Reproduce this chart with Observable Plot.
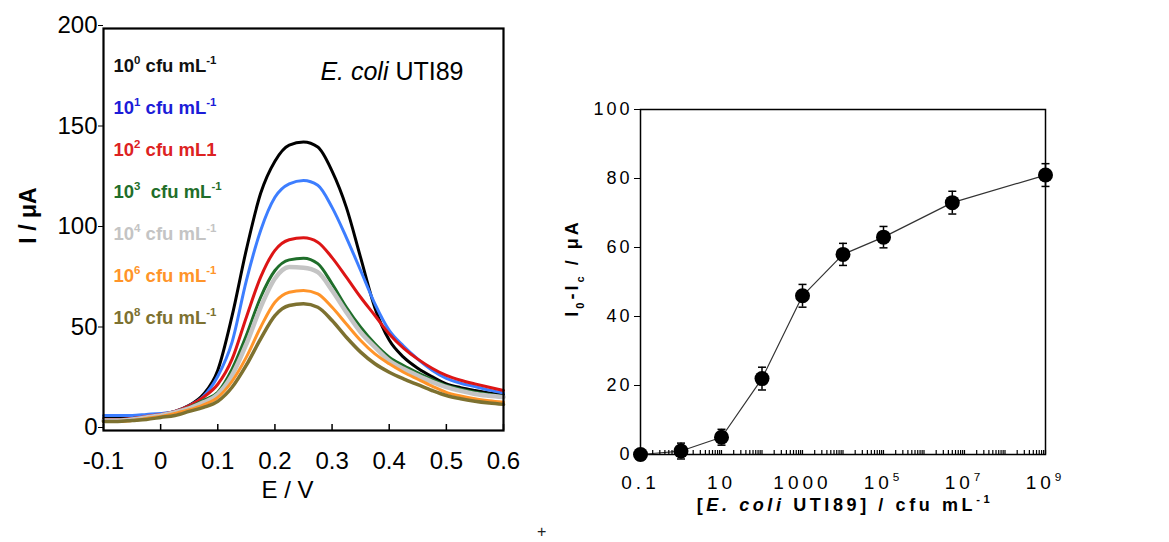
<!DOCTYPE html>
<html><head><meta charset="utf-8">
<script src="https://cdn.jsdelivr.net/npm/d3@7"></script>
<script src="https://cdn.jsdelivr.net/npm/@observablehq/plot@0.6"></script>
<style>
html,body{margin:0;padding:0;background:#fff;}
#wrap{position:relative;width:1169px;height:542px;overflow:hidden;font-family:"Liberation Sans",Arial,sans-serif;}
#left{position:absolute;left:0;top:0;}
#right{position:absolute;left:540px;top:0;}
#right text{letter-spacing:3px;}
#plus{position:absolute;left:537px;top:524px;font-size:16px;height:16px;color:#222;line-height:16px;}
</style></head><body>
<div id="wrap"><div id="left"></div><div id="right"></div><div id="plus">+</div></div>
<script>
// ---------- Left panel: voltammograms ----------
const potentials = [-0.1,-0.075,-0.05,-0.025,0,0.025,0.05,0.075,0.1,0.125,0.15,0.175,0.2,0.225,0.25,0.275,0.3,0.325,0.35,0.375,0.4,0.425,0.45,0.475,0.5,0.525,0.55,0.575,0.6];
const c10_0 = [6,6,6.5,7,8,9.5,12.5,18,30,57,90,118,134,142,143.5,141,129,111,86,61,45,36.5,31,26.8,23.2,21.3,19.9,18.7,17.7];
const c10_1 = [7.5,7.5,7.5,8,8.5,9.5,12.3,17,27,44,74.6,99.5,116,122.7,124.4,122,111,96,79.6,63,49.8,42,35.5,30,25.9,23.5,21.9,20.1,18.6];
const c10_2 = [5.5,5.5,6,7,8,9.5,12.3,16.6,23,35.5,56.4,76.3,89.6,94.9,95.9,93.7,86,76.3,66.3,57.2,48,41,35.5,31,27.4,25,23.2,21.5,19.9];
const c10_3 = [5,5,5.5,6.5,7.5,9,11.5,15,19,30.5,47.3,66.3,79.6,84.9,85.7,83,73,61.3,51.4,43.1,36.5,32.3,28.7,25.4,22.4,20.5,19,17.9,16.9];
const c10_4 = [5,5,5.5,6.5,7.5,9,11,14,18,27.5,43,61.3,75.6,81.3,81,78.8,69.7,58.9,48.9,41.5,34.8,30.7,27.3,24.2,21.6,19.7,18.2,17.3,16.6];
const c10_6 = [4.5,4.5,5,6,7,8.5,10.3,12.8,16.5,24.5,36.5,51.4,63.8,68.8,69.7,68,61.3,53,44.8,38.1,33.2,29,25.5,22.1,19,17.2,15.8,14.8,14];
const c10_8 = [4.5,4.5,5,5.5,6.5,7.5,9.5,11.5,14.5,21.5,32.5,45.6,57.2,62.2,63,61.3,54.7,46.4,39,33.2,29,25.7,22.8,19.9,17.4,15.8,14.6,13.7,13];
const seriesNames = ["1e0","1e1","1e2","1e3","1e4","1e6","1e8"];
const seriesCurrents = [c10_0,c10_1,c10_2,c10_3,c10_4,c10_6,c10_8];
const lineColors = ["#000000","#3d7eff","#dd1515","#1f6e2a","#c4c4c4","#ff9429","#7d7130"];
const lineWidths = [3,3,3,3,4.5,3,3.5];
const legendLabels = ["10^{0} cfu mL^{-1}","10^{1} cfu mL^{-1}","10^{2} cfu mL1","10^{3}  cfu mL^{-1}","10^{4} cfu mL^{-1}","10^{6} cfu mL^{-1}","10^{8} cfu mL^{-1}"];
const legendColors = ["#111111","#1c1cd8","#dd2222","#1f6e2a","#c4c4c4","#ff9429","#7d7130"];
const leftXTicks = [-0.1,0,0.1,0.2,0.3,0.4,0.5,0.6];
const leftYTicks = [0,50,100,150,200];
const leftTitle = "*{E. coli} UTI89";
const leftXLabel = "E / V";
const leftYLabel = "I / μA";

// ---------- Right panel: calibration ----------
const concentrations = [0.1,1,10,100,1000,1e4,1e5,5e6,1e9];
const signal = [0,1,5,22,46,58,63,73,81];
const signalErr = [1.5,2.3,2.3,3.3,3.3,3.2,3.1,3.3,3.3];
const rightXLabelTicks = [0.1,10,1000,1e5,1e7,1e9];
const rightXTickText = ["0.1","10","1000","10^{5}","10^{7}","10^{9}"];
const rightYTicks = [0,20,40,60,80,100];
const rightXLabel = "[*{E. coli} UTI89] / cfu mL^{-1}";
const rightYLabel = "I_{0}-I_{c} / μA";

const rows = seriesNames.flatMap((s, j) => potentials.map((E, i) => ({series: s, E, I: seriesCurrents[j][i]})));
const pts = concentrations.map((c, i) => ({c, v: signal[i], e: signalErr[i]}));
const minorTicks = [];
for (let d = -1; d <= 8; d++) for (let m = 1; m <= 9; m++) minorTicks.push(+(m * Math.pow(10, d)).toPrecision(3));
minorTicks.push(1e9);

const font = "Liberation Sans, Arial, sans-serif";

const leftMarks = [];
seriesNames.forEach((s, j) => {
  leftMarks.push(Plot.line(rows.filter(r => r.series === s), {x: "E", y: "I", stroke: lineColors[j], strokeWidth: lineWidths[j], curve: "monotone-x"}));
});
legendLabels.forEach((l, i) => {
  leftMarks.push(Plot.text([l], {frameAnchor: "top-left", textAnchor: "start", dx: 10, dy: 30 + i * 42, fill: legendColors[i], fontSize: 18.5, fontWeight: "bold"}));
});

const left = Plot.plot({
  width: 530, height: 542,
  marginLeft: 103, marginRight: 27, marginTop: 28, marginBottom: 112,
  style: {fontFamily: font, fontSize: "23px", color: "black", background: "white"},
  x: {domain: [-0.1, 0.6]},
  y: {domain: [0, 200]},
  marks: [
    ...leftMarks,
    Plot.frame({stroke: "black", strokeWidth: 2.2}),
    Plot.axisX({ticks: leftXTicks, tickSize: -6, tickFormat: () => "", label: null, strokeWidth: 1.5}),
    Plot.axisX({ticks: leftXTicks, tickSize: 0, tickPadding: 21, fontSize: 24, label: null, tickFormat: d => d === 0 ? "0" : String(+d.toFixed(1))}),
    Plot.axisY({ticks: leftYTicks, tickSize: 5, tickPadding: 1, fontSize: 24, label: null, dy: -3, tickFormat: d => String(d)}),
    Plot.text([leftTitle], {frameAnchor: "top-right", textAnchor: "end", dx: -40, dy: 34, fontSize: 25}),
    Plot.text([leftXLabel], {frameAnchor: "bottom", textAnchor: "middle", dx: -16, dy: 67, fontSize: 24}),
    Plot.text([leftYLabel], {frameAnchor: "left", textAnchor: "middle", rotate: -90, dx: -75, dy: -14, fontSize: 23, fontWeight: "bold"})
  ]
});
document.getElementById("left").appendChild(left);

const capSymbol = {draw(ctx, size) { const w = Math.sqrt(size / Math.PI); ctx.moveTo(-w, 0); ctx.lineTo(w, 0); }};

const right = Plot.plot({
  width: 629, height: 542,
  marginLeft: 100, marginRight: 124, marginTop: 109, marginBottom: 88,
  style: {fontFamily: font, fontSize: "18px", color: "black", background: "white"},
  x: {type: "log", domain: [0.1, 1e9]},
  y: {domain: [0, 100]},
  marks: [
    Plot.frame({stroke: "black", strokeWidth: 1.5}),
    Plot.line(pts, {x: "c", y: "v", stroke: "#333", strokeWidth: 1.2}),
    Plot.ruleX(pts, {x: "c", y1: d => d.v - d.e, y2: d => d.v + d.e, stroke: "black", strokeWidth: 1.5}),
    Plot.dot(pts, {x: "c", y: d => d.v + d.e, symbol: capSymbol, r: 4, stroke: "black", fill: "none", strokeWidth: 1.5}),
    Plot.dot(pts, {x: "c", y: d => d.v - d.e, symbol: capSymbol, r: 4, stroke: "black", fill: "none", strokeWidth: 1.5}),
    Plot.dot(pts, {x: "c", y: "v", r: 7.5, fill: "black", stroke: "none"}),
    Plot.axisX({ticks: minorTicks, tickSize: -4, tickFormat: () => "", label: null, strokeWidth: 1.2}),
    Plot.axisX({ticks: rightXLabelTicks, tickSize: 0, tickPadding: 21, fontSize: 19, label: null, tickFormat: d => rightXTickText[rightXLabelTicks.indexOf(d)]}),
    Plot.axisY({ticks: rightYTicks, tickSize: 6, tickPadding: 2, fontSize: 18, label: null, tickFormat: d => String(d)}),
    Plot.text([rightXLabel], {frameAnchor: "bottom", textAnchor: "middle", dx: 2, dy: 56, fontSize: 18, fontWeight: "bold"}),
    Plot.text([rightYLabel], {frameAnchor: "left", textAnchor: "middle", rotate: -90, dx: -68, dy: -14, fontSize: 18, fontWeight: "bold"})
  ]
});
document.getElementById("right").appendChild(right);

// rich text: ^{sup} _{sub} *{italic}
const NS = "http://www.w3.org/2000/svg";
function richify(root) {
  root.querySelectorAll("text").forEach(t => {
    const s = t.textContent;
    if (!/[\^_*]\{/.test(s)) return;
    const fs = parseFloat(getComputedStyle(t).fontSize) || 16;
    while (t.firstChild) t.removeChild(t.firstChild);
    const re = /([\^_*])\{([^}]*)\}|([^\^_*]+)/g;
    let m, shift = 0;
    while ((m = re.exec(s))) {
      const ts = document.createElementNS(NS, "tspan");
      if (m[1] === "*") {
        ts.textContent = m[2];
        ts.setAttribute("font-style", "italic");
        if (shift) { ts.setAttribute("dy", -shift); shift = 0; }
      } else if (m[1]) {
        ts.textContent = m[2];
        const target = m[1] === "^" ? -0.42 * fs : 0.3 * fs;
        ts.setAttribute("dy", target - shift);
        shift = target;
        ts.setAttribute("font-size", 0.62 * fs);
      } else {
        ts.textContent = m[3];
        if (shift) { ts.setAttribute("dy", -shift); shift = 0; }
      }
      t.appendChild(ts);
    }
  });
}
richify(left);
richify(right);
// wider letter spacing for right x-axis tick labels and title
d3.select(right).selectAll("text").filter(function() { return this.textContent.startsWith("["); }).style("letter-spacing", "3.6px");
d3.select(right).selectAll("g[aria-label='x-axis tick label'] text").style("letter-spacing", "4px");
</script>
</body></html>
